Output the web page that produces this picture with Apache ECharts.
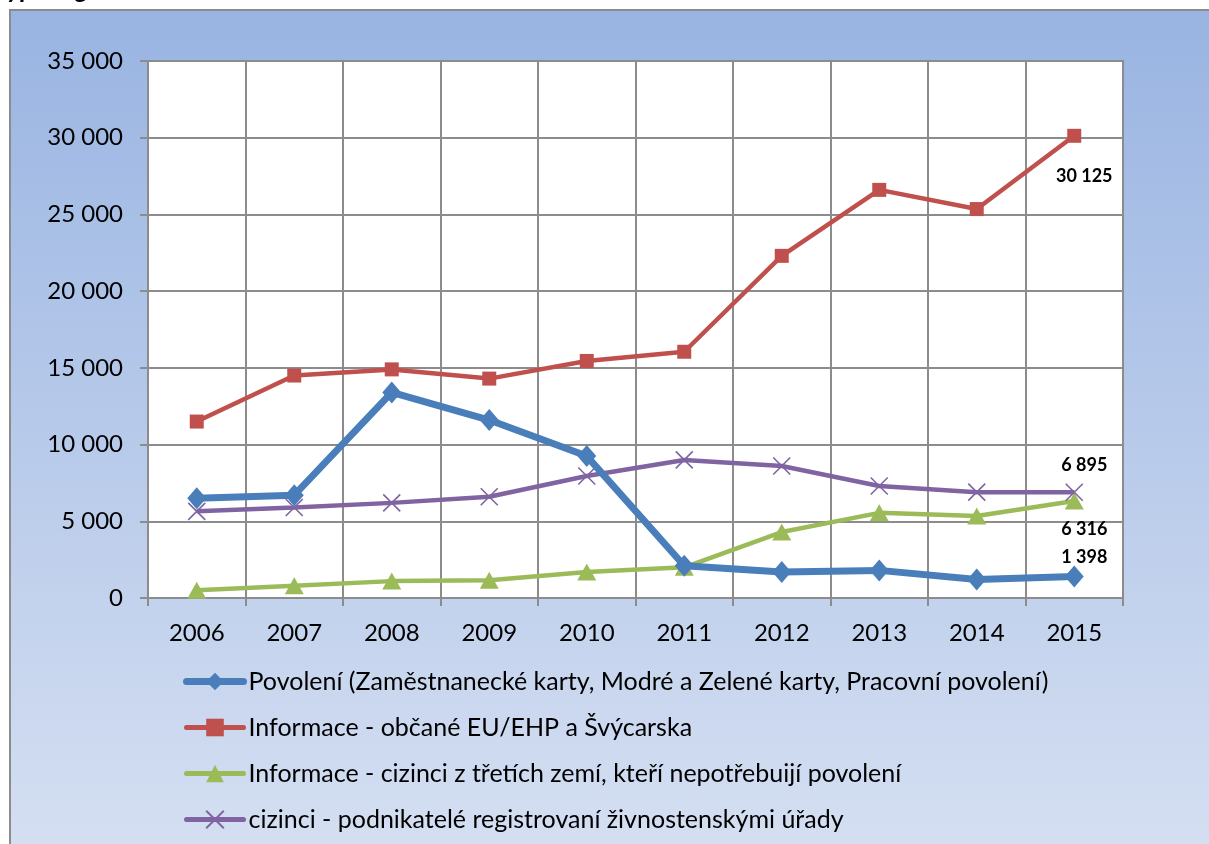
<!DOCTYPE html>
<html>
<head>
<meta charset="utf-8">
<script src="https://cdn.jsdelivr.net/npm/echarts@6/dist/echarts.min.js"></script>
<style>
  html, body { margin: 0; padding: 0; background: #ffffff; }
  #chart { width: 1209px; height: 844px; }
</style>
</head>
<body>
<div id="chart"></div>
<script>
// Years on the category axis
const years = ['2006', '2007', '2008', '2009', '2010', '2011', '2012', '2013', '2014', '2015'];

// Series names
const nameBlue = 'Povolení (Zaměstnanecké karty, Modré a Zelené karty, Pracovní povolení)';
const nameRed = 'Informace - občané EU/EHP a Švýcarska';
const nameGreen = 'Informace - cizinci z třetích zemí, kteří nepotřebuijí povolení';
const namePurple = 'cizinci - podnikatelé registrovaní živnostenskými úřady';

// Series values
const povoleni = [6500, 6700, 13400, 11600, 9250, 2100, 1700, 1800, 1200, 1398];
const obcaneEU = [11500, 14500, 14900, 14300, 15450, 16050, 22300, 26600, 25350, 30125];
const tretiZeme = [500, 800, 1100, 1150, 1700, 2000, 4300, 5550, 5350, 6316];
const podnikatele = [5650, 5900, 6200, 6600, 7950, 9000, 8600, 7300, 6900, 6895];

// Value axis ticks
const yTicks = [0, 5000, 10000, 15000, 20000, 25000, 30000, 35000];

const FONT = 'Lato, "Open Sans", sans-serif';
const fmt = v => String(v).replace(/\B(?=(\d{3})+(?!\d))/g, ' ');

// Only the last year carries a value label
function withLastLabel(values, position, distance) {
  return values.map((v, i) => i === values.length - 1
    ? { value: v, label: { show: true, position: position, distance: distance, offset: [10, 0],
        formatter: p => fmt(p.value), fontFamily: FONT, fontWeight: 'bold', fontSize: 18, color: '#000' } }
    : v);
}

const chart = echarts.init(document.getElementById('chart'), null, { renderer: 'canvas' });

chart.setOption({
  animation: false,
  graphic: [
    {
      type: 'rect', z: -10, silent: true,
      shape: { x: 10, y: 10, width: 1220, height: 860 },
      style: {
        fill: new echarts.graphic.LinearGradient(0, 0, 0, 1, [
          { offset: 0, color: '#99b4e2' },
          { offset: 1, color: '#d6e0f2' }
        ]),
        stroke: '#8c8c8c', lineWidth: 2
      }
    },
    {
      type: 'text', z: -5, silent: true,
      style: { text: 'typu registrace', x: -2, y: 3, verticalAlign: 'bottom',
        font: 'italic bold 26px ' + FONT, fill: '#000' }
    }
  ],
  grid: {
    left: 148, top: 61, right: 86, bottom: 246,
    show: true, backgroundColor: '#ffffff', borderColor: '#8c8c8c', borderWidth: 2
  },
  legend: {
    orient: 'vertical', left: 183, top: 669, height: 200, padding: 0, itemGap: 21,
    itemWidth: 57, itemHeight: 22,
    textStyle: { fontFamily: FONT, fontSize: 25, color: '#000' },
    data: [
      { name: nameBlue, lineStyle: { width: 7, cap: 'round' } },
      { name: nameRed, lineStyle: { width: 5, cap: 'round' } },
      { name: nameGreen, lineStyle: { width: 5, cap: 'round' } },
      { name: namePurple, lineStyle: { width: 5, cap: 'round' } }
    ]
  },
  xAxis: {
    type: 'category', data: years, boundaryGap: true,
    axisLine: { lineStyle: { color: '#8c8c8c', width: 2 } },
    axisTick: { show: true, length: 8, lineStyle: { color: '#8c8c8c', width: 2 } },
    splitLine: { show: true, lineStyle: { color: '#8c8c8c', width: 2 } },
    axisLabel: { fontFamily: FONT, fontSize: 24, color: '#000', margin: 23 }
  },
  yAxis: {
    type: 'value', min: yTicks[0], max: yTicks[yTicks.length - 1], interval: 5000,
    axisLine: { show: true, lineStyle: { color: '#8c8c8c', width: 2 } },
    axisTick: { show: true, length: 8, lineStyle: { color: '#8c8c8c', width: 2 } },
    splitLine: { show: true, lineStyle: { color: '#8c8c8c', width: 2 } },
    axisLabel: { fontFamily: FONT, fontSize: 24, color: '#000', margin: 25, formatter: fmt }
  },
  series: [
    {
      name: nameBlue, type: 'line', data: withLastLabel(povoleni, 'top', -1),
      symbol: 'diamond', symbolSize: [19, 22], z: 4,
      color: '#4a7ebb',
      lineStyle: { color: '#4a7ebb', width: 7 },
      itemStyle: { color: '#4a7ebb' }
    },
    {
      name: nameRed, type: 'line', data: withLastLabel(obcaneEU, 'bottom', 24),
      symbol: 'rect', symbolSize: 14, z: 3,
      color: '#c0504d',
      lineStyle: { color: '#c0504d', width: 4.5 },
      itemStyle: { color: '#c0504d' }
    },
    {
      name: nameGreen, type: 'line', data: withLastLabel(tretiZeme, 'bottom', 11),
      symbol: 'triangle', symbolSize: [19, 17], z: 3,
      color: '#9bbb59',
      lineStyle: { color: '#9bbb59', width: 4.5 },
      itemStyle: { color: '#9bbb59' }
    },
    {
      name: namePurple, type: 'line', data: withLastLabel(podnikatele, 'top', 9),
      symbol: 'path://M0,0L10,10M10,0L0,10', symbolSize: 17, z: 3,
      color: '#8064a2',
      lineStyle: { color: '#8064a2', width: 4.5 },
      itemStyle: { color: 'rgba(0,0,0,0)', borderColor: '#8064a2', borderWidth: 1.6 }
    }
  ]
});
</script>
</body>
</html>
